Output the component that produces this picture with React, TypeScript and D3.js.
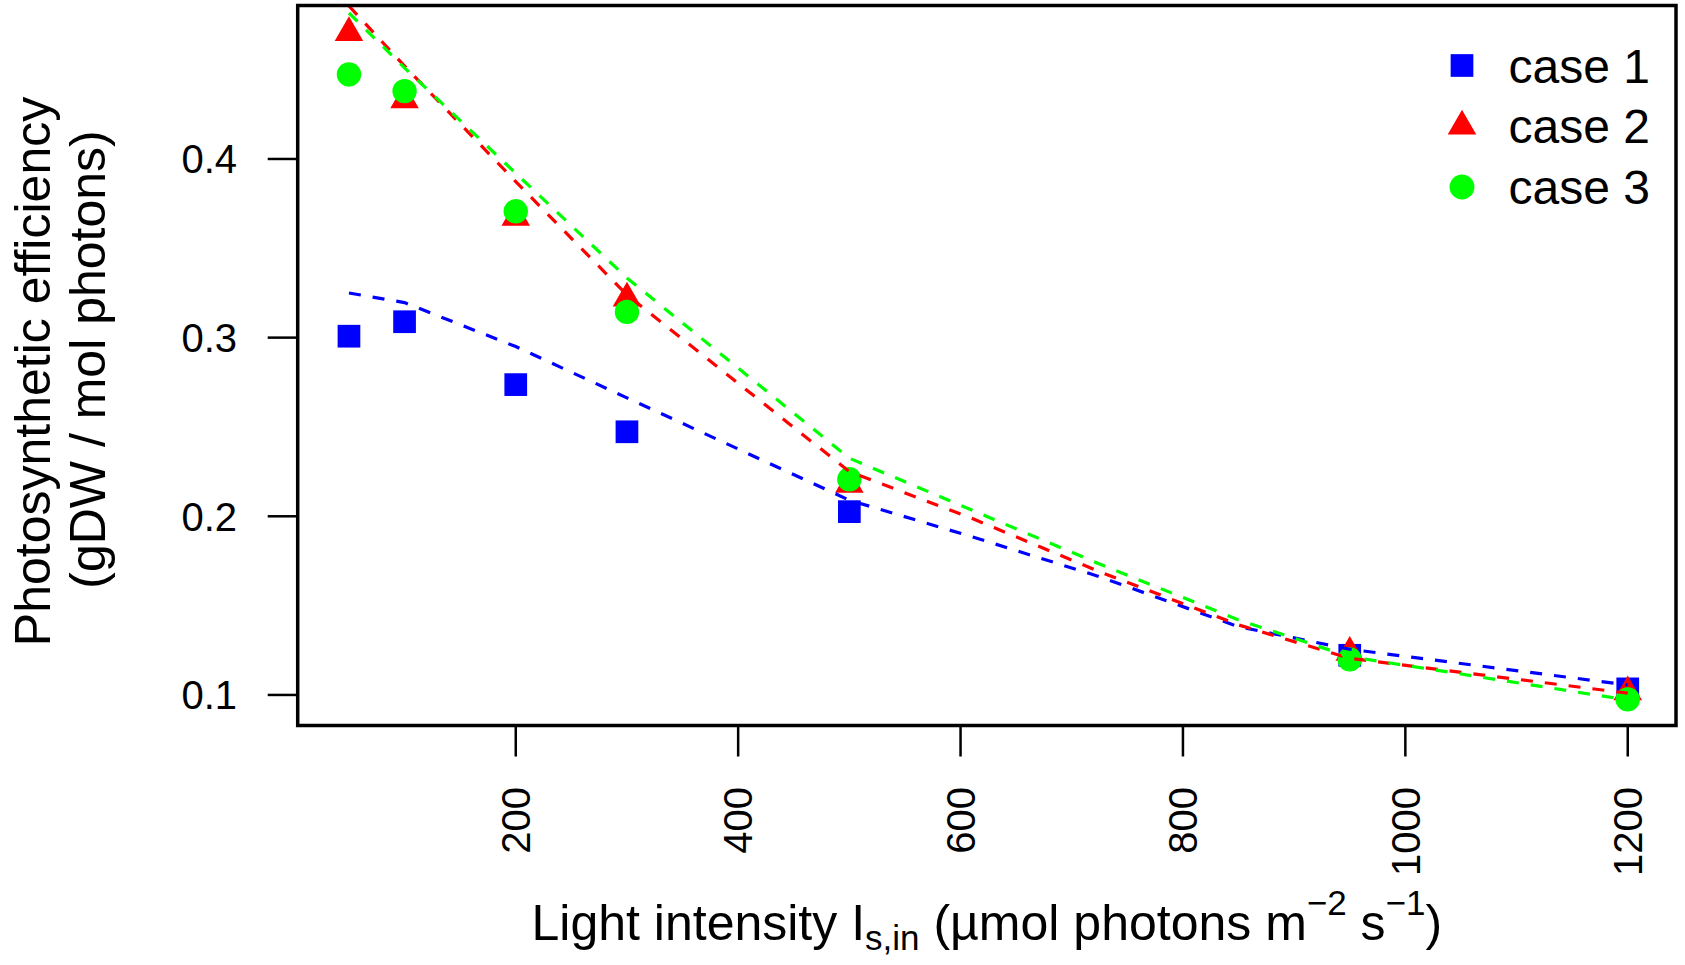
import * as d3 from "d3";

// measured points (x = light intensity)
const lightLevels = [50, 100, 200, 300, 500, 950, 1200];
const case1Values = [0.3008, 0.3089, 0.2737, 0.2473, 0.2026, 0.1222, 0.1034];
const case2Values = [0.4707, 0.433, 0.3673, 0.322, 0.2178, 0.1237, 0.1017];
const case3Values = [0.4473, 0.438, 0.3707, 0.3144, 0.2207, 0.1199, 0.0975];

// fitted curves (dashed)
const fitLevels = [50, 100, 200, 300, 500, 610, 725, 850, 950, 1200];
const case1Fit = [0.325, 0.3196, 0.295, 0.2663, 0.209, 0.1886, 0.1662, 0.1382, 0.1256, 0.1056];
const case2Fit = [0.4856, 0.452, 0.3873, 0.3239, 0.225, 0.1989, 0.169, 0.1392, 0.1205, 0.101];
const case3Fit = [0.4817, 0.451, 0.392, 0.3334, 0.2325, 0.2035, 0.1733, 0.142, 0.1214, 0.0972];

const xTicks = [200, 400, 600, 800, 1000, 1200];
const yTicks = [0.1, 0.2, 0.3, 0.4];
const legendLabels = ["case 1", "case 2", "case 3"];

const W = 1685;
const H = 965;
const FONT = "'Liberation Sans', Arial, sans-serif";

const BLUE = "#0000FF";
const RED = "#FF0000";
const GREEN = "#00FF00";

type Shape = "square" | "triangle" | "circle";

function Marker({ x, y, shape, color, size = 1 }: { x: number; y: number; shape: Shape; color: string; size?: number }) {
  if (shape === "square") {
    const s = 22.7 * size;
    return <rect x={x - s / 2} y={y - s / 2} width={s} height={s} fill={color} />;
  }
  if (shape === "circle") {
    return <circle cx={x} cy={y} r={12.2 * size} fill={color} />;
  }
  // R pch 17: apex r above the point, base r/2 below
  const R = 10.6 * size;
  const r = 1.5551 * R;
  const xc = 1.3468 * R;
  const yc = 0.7776 * R;
  return <polygon points={`${x},${y - r} ${x + xc},${y + yc} ${x - xc},${y + yc}`} fill={color} />;
}

export default function App() {
  const left = 297.7;
  const right = 1676;
  const top = 5.5;
  const bottom = 725.5;

  const x = d3.scaleLinear().domain([3.9, 1243.4]).range([left, right]);
  const y = d3.scaleLinear().domain([0.0829, 0.4859]).range([bottom, top]);

  const series = [
    { values: case1Values, fit: case1Fit, color: BLUE, shape: "square" as Shape },
    { values: case2Values, fit: case2Fit, color: RED, shape: "triangle" as Shape },
    { values: case3Values, fit: case3Fit, color: GREEN, shape: "circle" as Shape },
  ];

  const line = d3
    .line<number>()
    .x((_, i) => x(fitLevels[i]))
    .y((d) => y(d));

  const legendX = 1462;
  const legendY = d3.scalePoint<number>().domain([0, 1, 2]).range([65.5, 187]);

  return (
    <svg
      width={W}
      height={H}
      style={{ position: "absolute", left: 0, top: 0, background: "#fff" }}
      fontFamily={FONT}
    >
      <defs>
        <clipPath id="plot-clip">
          <rect x={left} y={top} width={right - left} height={bottom - top} />
        </clipPath>
      </defs>
      <rect x={0} y={0} width={W} height={H} fill="#fff" />

      {/* points */}
      {series.map((s) =>
        s.values.map((v, i) => (
          <Marker key={`${s.shape}-${i}`} x={x(lightLevels[i])} y={y(v)} shape={s.shape} color={s.color} />
        ))
      )}

      {/* dashed fits */}
      <g clipPath="url(#plot-clip)">
        {series.map((s) => (
          <path
            key={s.color}
            d={line(s.fit) ?? ""}
            fill="none"
            stroke={s.color}
            strokeWidth={3.2}
            strokeDasharray="12 12"
          />
        ))}
      </g>

      {/* box */}
      <rect x={left} y={top} width={right - left} height={bottom - top} fill="none" stroke="#000" strokeWidth={3.5} />

      {/* y axis */}
      {yTicks.map((t) => (
        <g key={t}>
          <line x1={left - 30} x2={left} y1={y(t)} y2={y(t)} stroke="#000" strokeWidth={2.5} />
          <text x={237} y={y(t) + 14.3} fontSize={40} textAnchor="end">
            {t.toFixed(1)}
          </text>
        </g>
      ))}

      {/* x axis */}
      {xTicks.map((t) => (
        <g key={t}>
          <line x1={x(t)} x2={x(t)} y1={bottom} y2={bottom + 31} stroke="#000" strokeWidth={2.5} />
          <text
            transform={`translate(${x(t) + 14.3},787) rotate(-90)`}
            fontSize={40}
            textAnchor="end"
          >
            {t}
          </text>
        </g>
      ))}

      {/* axis titles */}
      <text x={(left + right) / 2} y={940} fontSize={50} textAnchor="middle">
        Light intensity I
        <tspan fontSize={35} dy={10}>s,in</tspan>
        <tspan dy={-10}> (µmol photons m</tspan>
        <tspan fontSize={35} dy={-25}>−2</tspan>
        <tspan dy={25}> s</tspan>
        <tspan fontSize={35} dy={-25}>−1</tspan>
        <tspan dy={25}>)</tspan>
      </text>
      <text transform={`translate(50,${(top + bottom) / 2 + 6}) rotate(-90)`} fontSize={50} textAnchor="middle">
        Photosynthetic efficiency
      </text>
      <text transform={`translate(105,${(top + bottom) / 2 - 6}) rotate(-90)`} fontSize={50} textAnchor="middle">
        (gDW / mol photons)
      </text>

      {/* legend */}
      {series.map((s, i) => (
        <g key={legendLabels[i]}>
          <Marker x={legendX} y={legendY(i)!} shape={s.shape} color={s.color} size={s.shape === "circle" ? 1.02 : 1} />
          <text x={1508.6} y={legendY(i)! + 17.2} fontSize={48}>
            {legendLabels[i]}
          </text>
        </g>
      ))}
    </svg>
  );
}
